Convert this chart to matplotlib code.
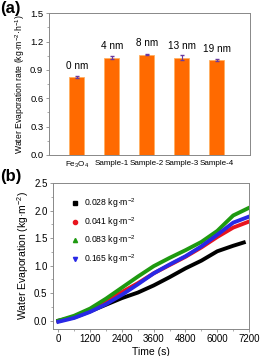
import matplotlib
matplotlib.use('Agg')
import matplotlib.pyplot as plt
from matplotlib.ticker import MultipleLocator

plt.rcParams['font.family'] = ['Liberation Sans', 'DejaVu Sans']
plt.rcParams['mathtext.fontset'] = 'custom'
plt.rcParams['mathtext.rm'] = 'Liberation Sans'

# panel (a) data
samples = ['Fe$_3$O$_4$', 'Sample-1', 'Sample-2', 'Sample-3', 'Sample-4']
rates = [0.82, 1.03, 1.06, 1.03, 1.00]
rate_err = [0.01, 0.02, 0.005, 0.03, 0.01]
thickness = ['0 nm', '4 nm', '8 nm', '13 nm', '19 nm']

# panel (b) data
time_s = [0, 600, 1200, 1800, 2400, 3000, 3600, 4200, 4800, 5400, 6000, 6600, 7200]
time_black = [0, 600, 1200, 1800, 2400, 3000, 3600, 4200, 4800, 5400, 6000, 6600, 7000]
evap_028 = [0.0, 0.06, 0.17, 0.29, 0.41, 0.51, 0.64, 0.79, 0.95, 1.09, 1.26, 1.36, 1.42]
evap_041 = [-0.01, 0.07, 0.20, 0.36, 0.52, 0.68, 0.86, 1.01, 1.16, 1.33, 1.52, 1.69, 1.80]
evap_083 = [0.0, 0.09, 0.22, 0.40, 0.60, 0.80, 0.99, 1.14, 1.28, 1.43, 1.63, 1.91, 2.05]
evap_165 = [-0.02, 0.05, 0.16, 0.30, 0.47, 0.66, 0.86, 1.02, 1.17, 1.35, 1.56, 1.78, 1.89]
loadings = ['0.028 kg·m$^{-2}$', '0.041 kg·m$^{-2}$', '0.083 kg·m$^{-2}$', '0.165 kg·m$^{-2}$']

fig = plt.figure(figsize=(2.6, 3.56), dpi=100)
spine_col = '#888888'

# ---- (a) bar chart
ax1 = fig.add_axes([0.188, 0.565, 0.773, 0.398])
x = range(len(samples))
ax1.bar(x, rates, width=0.43, color='#FF6A00', edgecolor='#FFB060', linewidth=0.6,
        yerr=rate_err, ecolor='#6A3AA0', capsize=1.2, error_kw={'elinewidth': 0.8})
for i, lab in enumerate(thickness):
    ax1.text(i, rates[i] + 0.07, lab, ha='center', va='bottom', fontsize=7.2)
ax1.set_xticks(list(x))
ax1.set_xticklabels(samples, fontsize=5.8)
ax1.set_xlim(-0.8, 4.95)
ax1.set_ylim(0, 1.5)
ax1.yaxis.set_major_locator(MultipleLocator(0.3))
ax1.yaxis.set_minor_locator(MultipleLocator(0.15))
ax1.yaxis.set_major_formatter(plt.FormatStrFormatter('%.1f'))
ax1.tick_params(axis='y', labelsize=6.8, length=2.5, width=0.6, color=spine_col, pad=1.5)
ax1.tick_params(axis='y', which='minor', length=1.5, width=0.5, color=spine_col)
ax1.tick_params(axis='x', length=0, pad=3.5)
ax1.set_ylabel('Water Evaporation rate (kg·m$^{-2}$·h$^{-1}$)', fontsize=6.2, labelpad=2)
for s in ax1.spines.values():
    s.set_color(spine_col)
    s.set_linewidth(0.7)
fig.text(0.0, 0.998, '(a)', fontsize=12, fontweight='bold', ha='left', va='top')

# ---- (b) evaporation curves
ax2 = fig.add_axes([0.204, 0.076, 0.754, 0.410])
ax2.plot(time_black, evap_028, color='black', lw=2.8)
ax2.plot(time_s, evap_041, color='#E8141E', lw=2.8)
ax2.plot(time_s, evap_083, color='#1E9A10', lw=2.8)
ax2.plot(time_s, evap_165, color='#2828E6', lw=2.8)
# legend markers
ax2.plot([], [], 's', color='black', ms=3, label=loadings[0])
ax2.plot([], [], 'o', color='#E8141E', ms=3, label=loadings[1])
ax2.plot([], [], '^', color='#1E9A10', ms=3, label=loadings[2])
ax2.plot([], [], 'v', color='#2828E6', ms=3, label=loadings[3])
ax2.legend(loc='upper left', bbox_to_anchor=(0.07, 0.93), frameon=False, fontsize=6.2,
           handlelength=1.0, handletextpad=0.6, labelspacing=0.55, borderaxespad=0)
ax2.set_xlim(-200, 7200)
ax2.set_ylim(-0.15, 2.5)
ax2.xaxis.set_major_locator(MultipleLocator(1200))
ax2.xaxis.set_minor_locator(MultipleLocator(600))
ax2.yaxis.set_major_locator(MultipleLocator(0.5))
ax2.yaxis.set_minor_locator(MultipleLocator(0.25))
ax2.yaxis.set_major_formatter(plt.FormatStrFormatter('%.1f'))
ax2.tick_params(labelsize=7, length=2.5, width=0.6, color=spine_col, pad=1.5)
ax2.tick_params(which='minor', length=1.5, width=0.5, color=spine_col)
ax2.set_xlabel('Time (s)', fontsize=7.5, labelpad=2)
ax2.set_ylabel('Water Evaporation (kg·m$^{-2}$)', fontsize=7.5, labelpad=2)
for s in ax2.spines.values():
    s.set_color(spine_col)
    s.set_linewidth(0.7)
fig.text(0.0, 0.525, '(b)', fontsize=12, fontweight='bold', ha='left', va='top')

fig.savefig('out.png', dpi=100)
